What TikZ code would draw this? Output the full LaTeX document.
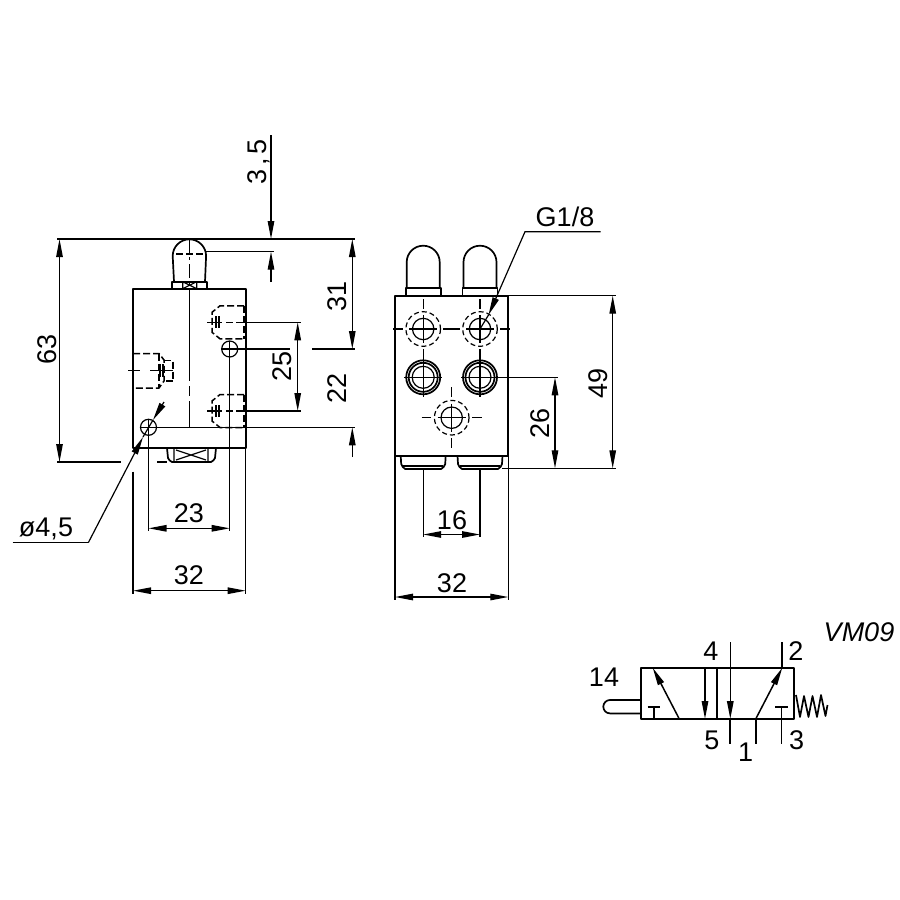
\documentclass[tikz,border=0pt]{standalone}
\usepackage{fontspec}
\setmainfont{Liberation Sans}
\usepackage{tikz}
\usetikzlibrary{arrows.meta}
\tikzstyle{Outline}=[line width=1.7pt, line join=round]
\tikzstyle{Thin}=[line width=1.2pt]
\tikzstyle{Hidden}=[line width=1.5pt, dash pattern=on 7pt off 3pt]
\tikzstyle{Center}=[line width=1pt, dash pattern=on 14pt off 4pt on 3pt off 4pt]
\tikzstyle{Dim}=[line width=1.2pt, {Triangle[length=18pt,width=6.5pt]}-{Triangle[length=18pt,width=6.5pt]}]
\tikzstyle{Tip}=[line width=1.2pt, -{Triangle[length=18pt,width=6.5pt]}]
\tikzstyle{Label}=[font=\fontsize{27}{27}\selectfont, inner sep=0pt]

\begin{document}
\begin{tikzpicture}[x=1pt,y=-1pt]
    \useasboundingbox (0,0) rectangle (900,900);

    % side view
    \draw[Outline] (133,288.7) rectangle (245.7,448);
    \draw[Outline] (174,281.7) -- (172.7,256) arc[start angle=180,end angle=360,radius=16.7] -- (205,281.7);
    \draw[Outline] (171.7,288.7) rectangle (206.7,281.7);
    \draw[Thin] (182.7,281.7) rectangle (196.7,288.7) (182.7,281.7) -- (196.7,288.7) (182.7,288.7) -- (196.7,281.7);
    \draw[Outline] (167,448) -- (168,458) to[bend right=20] (172,462) -- (211,462) to[bend right=20] (215,458) -- (216,448);
    \draw[Thin] (174,448) -- (174,462) (208,448) -- (208,462) (176,450) -- (206,460) (176,460) -- (206,450);
    \draw[Thin] (157,462) -- (167,462);
    \draw[Hidden, line width=1.1pt] (176,254) -- (203,254);
    \draw[Center] (189.5,239) -- (189.5,288);
    \draw[Thin] (189.5,288) -- (189.5,381);
    \draw[Thin] (189.5,386) -- (189.5,396) (189.5,401) -- (189.5,427);

    % hidden ports
    \foreach \py in {322.3,411} {
        \draw[Hidden] (244,\py-16.5) -- (220,\py-16.5) -- (212,\py-10) -- (212,\py+10) -- (220,\py+16.5) -- (244,\py+16.5);
        \draw[Hidden] (244,\py-16.5) -- (244,\py+16.5);
        \draw[Thin] (207,\py) -- (222,\py);
        \draw[Thin] (216,\py-6) -- (216,\py+6) (219,\py-6) -- (219,\py+6);
        \draw[Hidden] (226,\py) -- (244,\py);
    }
    \draw[Hidden] (133,353.5) -- (159,353.5) -- (164,360) -- (164,381) -- (159,388) -- (133,388);
    \draw[Hidden] (164,360.5) -- (173,360.5) -- (173,381) -- (164,381);
    \draw[Hidden] (159,353.5) -- (159,388);
    \draw[Thin] (128,370.7) -- (140,370.7) (133.5,364) -- (133.5,377) (150,370.7) -- (173,370.7) (160,364) -- (160,377) (163,364) -- (163,377);

    % mounting holes
    \draw[Thin] (229.7,349) circle (8) (148.5,427.3) circle (8);
    \draw[Thin] (221.7,349) -- (290,349);
    \draw[Thin] (229.7,341) -- (229.7,531);
    \draw[Thin] (148.5,419.3) -- (148.5,531);
    \draw[Thin] (140.5,427.3) -- (355,427.3);

    % dimensions, side view
    \draw[Thin] (57,239) -- (355,239);
    \draw[Thin] (57,462) -- (120.5,462);
    \draw[Dim] (59.5,239) -- (59.5,462);
    \draw[Thin] (206,251.7) -- (274,251.7);
    \draw[Tip] (271,135) -- (271,239);
    \draw[Tip] (271,282) -- (271,251.7);
    \draw[Thin] (312,349) -- (355,349);
    \draw[Dim] (352.3,239) -- (352.3,349);
    \draw[Tip] (352.3,457) -- (352.3,427.3);
    \draw[Thin] (245,322.3) -- (301,322.3) (245,411) -- (301,411);
    \draw[Dim] (297.7,322.3) -- (297.7,411);
    \draw[Thin] (133,471.7) -- (133,594) (245.7,448) -- (245.7,594);
    \draw[Dim] (148.5,528.3) -- (229.7,528.3);
    \draw[Dim] (133,590.7) -- (245.7,590.7);

    % leader of the hole
    \draw[Thin] (12.7,542.7) -- (88.3,542.7);
    \draw[Tip] (88.3,542.7) -- (143,437);
    \draw[Tip] (164,402) -- (153,420);
    \draw[Thin] (153,420) -- (143,437);

    \path
    (259,162) node[Label, rotate=90] (hub) {\addfontfeature{LetterSpace=14}3,5}
    (47,349) node[Label, rotate=90] (total) {63}
    (337,296) node[Label, rotate=90] (upper) {31}
    (337,388) node[Label, rotate=90] (lower) {22}
    (282,366.7) node[Label, rotate=90] (ports) {25}
    (189,513) node[Label] (holes) {23}
    (189,575) node[Label] (width) {32}
    (46,529) node[Label] (bore) {ø4,5};

    % front view
    \draw[Outline] (395,295.7) rectangle (508.3,455.7);
    \foreach \px in {423.2,480} {
        \draw[Outline] (\px-16.5,288.3) -- (\px-16.5,262.2) arc[start angle=180,end angle=360,radius=16.5] -- (\px+16.5,288.3);
        \draw[Outline] (\px-17.5,295.7) rectangle (\px+17.5,288.3);
        \draw[Outline] (\px-22.5,455.7) -- (\px-22,464) to[bend right=20] (\px-18,469) -- (\px+18,469) to[bend right=20] (\px+22,464) -- (\px+22.5,455.7);
        \draw[Thin] (\px-20,466) -- (\px+20,466);
        \draw[Thin] (\px,469) -- (\px,537);
        % upper port
        \draw[Thin] (\px,329) circle (10.7);
        \draw[Hidden, line width=1.2pt, dash pattern=on 5pt off 3pt] (\px,329) circle (17.3);
        \draw[Thin] (\px-14,329) -- (\px+14,329) (\px,315) -- (\px,343);
        \draw[Thin] (\px,299) -- (\px,309) (\px,349) -- (\px,360);
        % lower port
        \draw[Outline] (\px,377.3) circle (17);
        \draw[Outline] (\px,377.3) circle (14.5);
        \draw[Thin] (\px,377.3) circle (11);
        \draw[Thin] (\px-19,377.3) -- (\px+19,377.3) (\px,358) -- (\px,397);
    }
    \draw[Thin] (393.3,329) -- (403,329) (443,329) -- (460,329) (500,329) -- (510,329);
    \draw[Thin] (451.7,417.7) circle (10.7);
    \draw[Hidden, line width=1.2pt, dash pattern=on 5pt off 3pt] (451.7,417.7) circle (17.3);
    \draw[Thin] (437.7,417.7) -- (465.7,417.7) (451.7,403.7) -- (451.7,431.7);
    \draw[Thin] (421.7,417.7) -- (431,417.7) (472,417.7) -- (481.7,417.7) (451.7,387.3) -- (451.7,397) (451.7,438) -- (451.7,448.3);

    % dimensions, front view
    \draw[Thin] (508,295.7) -- (615.7,295.7) (497,377.3) -- (558.3,377.3) (502,468.3) -- (615.7,468.3);
    \draw[Dim] (555,377.3) -- (555,468.3);
    \draw[Dim] (612.7,295.7) -- (612.7,468.3);
    \draw[Thin] (395,455.7) -- (395,600) (508.3,455.7) -- (508.3,600);
    \draw[Dim] (423.2,534.5) -- (480,534.5);
    \draw[Dim] (395,597) -- (508.3,597);
    \draw[Thin] (600.7,231.7) -- (525,231.7) -- (497,295.7);
    \draw[Tip] (497,295.7) -- (488.5,315);
    \draw[Thin] (488.5,315) -- (480,329);

    \path
    (540,423) node[Label, rotate=90] (pitch) {26}
    (598,383) node[Label, rotate=90] (height) {49}
    (452,520) node[Label] (spacing) {16}
    (452,583) node[Label] (wide) {32}
    (565,217) node[Label] (thread) {G1/8};

    % valve symbol
    \draw[Outline] (641,667.7) rectangle (794,719);
    \draw[Outline] (717.3,667.7) -- (717.3,719);
    \draw[Outline] (641,700) -- (610,700) arc[start angle=270,end angle=90,radius=6.7] -- (641,713.4);
    \draw[Tip, line width=1.5pt] (679.3,719) -- (652.7,667.7);
    \draw[Tip, line width=1.5pt] (705,667.7) -- (705,719);
    \draw[Tip, line width=1.5pt] (730.3,642.3) -- (730.3,719);
    \draw[Outline] (730.3,719) -- (730.3,744.3);
    \draw[Tip, line width=1.5pt] (755.7,719) -- (782.3,667.7);
    \draw[Outline] (782.3,642.3) -- (782.3,667.7);
    \draw[Outline] (755.7,719) -- (755.7,744.3);
    \draw[Outline] (647.7,706.7) -- (660,706.7) (653.7,706.7) -- (653.7,719);
    \draw[Outline] (775,706.7) -- (787.5,706.7) (781.5,706.7) -- (781.5,744.3);
    \draw[Outline] (796,695) -- (800,717) -- (804,696) -- (808.5,717) -- (812.5,696) -- (817,717) -- (821,695) -- (825.5,716) -- (827.5,705);

    \path
    (604,677) node[Label] (pilot) {14}
    (711,651) node[Label] (four) {4}
    (796,651) node[Label] (two) {2}
    (712,740) node[Label] (five) {5}
    (745.7,752) node[Label] (one) {1}
    (796.7,740) node[Label] (three) {3}
    (859,632) node[Label, font=\fontsize{27}{27}\selectfont\itshape] (code) {VM09};
\end{tikzpicture}
\end{document}
